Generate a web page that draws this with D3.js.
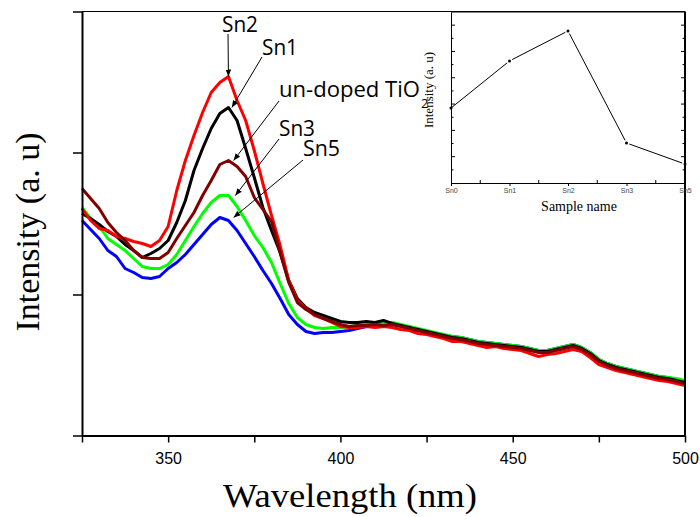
<!DOCTYPE html>
<html>
<head>
<meta charset="utf-8">
<script src="https://cdn.jsdelivr.net/npm/d3@7"></script>
<style>
  body { margin: 0; background: #fff; }
  .axis path, .axis line { stroke: #000; }
</style>
</head>
<body>
<div id="graphic"></div>
<script>
const width = 700;
const height = 517;

// wavelength grid (nm)
const wavelength = [325, 327.5, 330, 332.5, 335, 337.5, 340, 342.5, 345, 347.5,
  350, 352.5, 355, 357.5, 360, 362.5, 365, 367.5, 370, 372.5,
  375, 377.5, 380, 382.5, 385, 387.5, 390, 392.5, 395, 397.5,
  400, 402.5, 405, 407.5, 410, 412.5, 415, 417.5, 420, 422.5,
  425, 427.5, 430, 432.5, 435, 437.5, 440, 442.5, 445, 447.5,
  450, 452.5, 455, 457.5, 460, 462.5, 465, 467.5, 470, 472.5,
  475, 477.5, 480, 482.5, 485, 487.5, 490, 492.5, 495, 497.5, 500];

// PL intensity (a.u.)
const sn2 = [227, 215, 207, 205, 199, 197, 194, 192, 189, 195,
  209, 245, 275, 300, 323, 343, 353, 359, 335, 315,
  285, 252, 220, 190, 155, 135, 127, 120, 117, 113,
  109, 108, 108, 109, 108, 109, 108, 106, 105, 102,
  101, 99, 97, 94, 94, 92, 90, 88, 89, 87,
  86, 85, 82, 79, 81, 82, 84, 86, 84, 78,
  71, 68, 65, 63, 61, 59, 57, 55, 54, 52, 50];
const sn1 = [222, 217, 211, 204, 199, 191, 185, 178, 182, 187,
  195, 213, 235, 265, 287, 307, 322, 328, 315, 287,
  258, 228, 205, 183, 155, 137, 128, 123, 120, 117,
  114, 113, 113, 114, 113, 115, 112, 110, 108, 106,
  104, 102, 100, 98, 97, 95, 93, 92, 91, 90,
  89, 88, 86, 84, 84, 86, 88, 90, 87, 82,
  75, 71, 68, 66, 64, 62, 60, 58, 57, 55, 53];
const undoped = [247, 237, 227, 213, 203, 195, 185, 178, 177, 177,
  183, 197, 210, 223, 240, 255, 271, 275, 269, 259,
  238, 226, 214, 183, 153, 133, 126, 121, 117, 114,
  111, 109, 110, 110, 111, 110, 111, 109, 107, 105,
  103, 101, 99, 97, 96, 94, 92, 91, 90, 89,
  88, 87, 85, 83, 83, 85, 87, 89, 86, 81,
  74, 70, 67, 65, 63, 61, 59, 57, 56, 54, 52];
const sn3 = [228, 217, 209, 197, 191, 185, 177, 169, 167, 167,
  171, 181, 195, 209, 222, 233, 240, 240, 229, 215,
  200, 188, 173, 152, 132, 118, 111, 108, 107, 108,
  108, 109, 110, 111, 112, 112, 113, 111, 109, 107,
  105, 103, 101, 99, 98, 96, 94, 93, 92, 91,
  90, 89, 87, 85, 85, 87, 89, 91, 88, 83,
  76, 72, 69, 67, 65, 63, 61, 59, 58, 57, 55];
const sn5 = [215, 206, 197, 185, 179, 167, 163, 158, 157, 159,
  167, 173, 181, 191, 201, 211, 218, 215, 205, 192,
  179, 165, 152, 137, 121, 111, 104, 102, 103, 103,
  104, 105, 107, 109, 110, 111, 111, 110, 108, 106,
  104, 102, 100, 99, 98, 96, 94, 93, 92, 91,
  90, 89, 87, 85, 85, 87, 89, 91, 88, 83,
  76, 72, 69, 67, 65, 63, 61, 59, 58, 56, 54];

const xTicks = [325, 350, 375, 400, 425, 450, 475, 500];
const xTickLabels = [350, 400, 450, 500];
const yTicks = [0, 141, 283, 424];

// inset: peak intensity per sample
const samples = ['Sn0', 'Sn1', 'Sn2', 'Sn3', 'Sn5'];
const peakIntensity = [2.85, 4.64, 5.78, 1.52, 0.72];
const insetYTicks = [0.5, 1, 1.5, 2, 2.5, 3, 3.5, 4, 4.5, 5, 5.5, 6];

const svg = d3.select('#graphic')
  .append('svg')
  .attr('width', width)
  .attr('height', height);

const x = d3.scaleLinear().domain([325, 500]).range([82, 685]);
const y = d3.scaleLinear().domain([0, 424]).range([435.5, 11.5]);

// series, drawn in this order (last on top)
const series = [
  { name: 'Sn5', values: sn5, color: '#0000ff' },
  { name: 'Sn3', values: sn3, color: '#00ff00' },
  { name: 'Sn1', values: sn1, color: '#000000' },
  { name: 'Sn2', values: sn2, color: '#ff0000' },
  { name: 'undoped', values: undoped, color: '#800000' }
];

const line = d3.line()
  .x((d, i) => x(wavelength[i]))
  .y(d => y(d));

svg.selectAll('path.spec')
  .data(series)
  .enter()
  .append('path')
  .attr('class', 'spec')
  .attr('d', d => line(d.values))
  .attr('fill', 'none')
  .attr('stroke', d => d.color)
  .attr('stroke-width', 3)
  .attr('stroke-linejoin', 'round');

// axes
const axisX = d3.axisBottom(x)
  .tickValues(xTicks)
  .tickSize(7)
  .tickSizeOuter(0)
  .tickFormat(d => xTickLabels.includes(d) ? d : '');

const gx = svg.append('g')
  .attr('class', 'axis')
  .attr('transform', `translate(0, ${y(0)})`)
  .call(axisX);
gx.select('.domain').attr('stroke-width', 2);
gx.selectAll('line').attr('stroke-width', 1.5);
gx.selectAll('text')
  .attr('y', 28)
  .attr('dy', 0)
  .attr('fill', '#000')
  .style('font-family', '"Liberation Sans", Arial, sans-serif')
  .style('font-size', '16px');

const axisY = d3.axisLeft(y)
  .tickValues(yTicks)
  .tickSize(9)
  .tickSizeOuter(0)
  .tickFormat('');

const gy = svg.append('g')
  .attr('class', 'axis')
  .attr('transform', `translate(${x(325)}, 0)`)
  .call(axisY);
gy.select('.domain').attr('stroke-width', 2);
gy.selectAll('line').attr('stroke-width', 1.5);

// frame top and right
svg.append('line')
  .attr('x1', x(325)).attr('x2', x(500))
  .attr('y1', y(424)).attr('y2', y(424))
  .attr('stroke', '#000').attr('stroke-width', 1.2);
svg.append('line')
  .attr('x1', x(500)).attr('x2', x(500))
  .attr('y1', y(424)).attr('y2', y(0))
  .attr('stroke', '#000').attr('stroke-width', 2);

// axis titles
svg.append('text')
  .attr('x', 223)
  .attr('y', 507)
  .attr('textLength', 254)
  .attr('lengthAdjust', 'spacingAndGlyphs')
  .style('font-family', '"Liberation Serif", "Times New Roman", serif')
  .style('font-size', '33px')
  .text('Wavelength (nm)');

svg.append('text')
  .attr('transform', 'translate(39, 232) rotate(-90)')
  .attr('text-anchor', 'middle')
  .style('font-family', '"Liberation Serif", "Times New Roman", serif')
  .style('font-size', '34px')
  .text('Intensity (a. u)');

// annotations with arrows pointing at the peaks
svg.append('defs').append('marker')
  .attr('id', 'arrow')
  .attr('markerUnits', 'userSpaceOnUse')
  .attr('viewBox', '0 0 10 10')
  .attr('refX', 10)
  .attr('refY', 5)
  .attr('markerWidth', 7)
  .attr('markerHeight', 7)
  .attr('orient', 'auto')
  .append('path')
  .attr('d', 'M0,1 L10,5 L0,9 Z')
  .attr('fill', '#000');

const notes = [
  { text: 'Sn2', tx: 222, ty: 32, len: 36, ax: 228, ay: 34, w: 367.5, v: 359 },
  { text: 'Sn1', tx: 262, ty: 55, len: 36, ax: 262, ay: 57, w: 368.5, v: 328 },
  { text: 'un-doped TiO', tx: 279, ty: 97, len: 141, ax: 279, ay: 101, w: 369, v: 275 },
  { text: 'Sn3', tx: 279, ty: 136, len: 36, ax: 279, ay: 139, w: 369.5, v: 240 },
  { text: 'Sn5', tx: 303, ty: 156, len: 37, ax: 303, ay: 160, w: 369, v: 218 }
];

notes.forEach(n => {
  svg.append('line')
    .attr('x1', n.ax).attr('y1', n.ay)
    .attr('x2', x(n.w)).attr('y2', y(n.v))
    .attr('stroke', '#000')
    .attr('stroke-width', 1)
    .attr('marker-end', 'url(#arrow)');
});

svg.selectAll('text.note')
  .data(notes)
  .enter()
  .append('text')
  .attr('class', 'note')
  .attr('x', d => d.tx)
  .attr('y', d => d.ty)
  .attr('textLength', d => d.len)
  .attr('lengthAdjust', 'spacingAndGlyphs')
  .style('font-family', '"Open Sans", sans-serif')
  .style('font-size', '21px')
  .text(d => d.text);

// subscript of TiO2, partly hidden under the inset title
svg.append('text')
  .attr('x', 421)
  .attr('y', 108)
  .style('font-family', '"Open Sans", sans-serif')
  .style('font-size', '13px')
  .text('2');

// inset
const ix = d3.scalePoint().domain(samples).range([451, 685]);
const iy = d3.scaleLinear().domain([0, 6.5]).range([183, 12]);

const insetAxisX = d3.axisBottom(ix).tickSize(3).tickSizeOuter(0);
const gix = svg.append('g')
  .attr('class', 'axis')
  .attr('transform', `translate(0, ${iy(0)})`)
  .call(insetAxisX);
gix.selectAll('text')
  .attr('y', 10)
  .attr('dy', 0)
  .attr('fill', '#444')
  .style('font-family', '"Liberation Sans", Arial, sans-serif')
  .style('font-size', '7px');

// minor ticks between samples, pointing up
svg.selectAll('line.iminor')
  .data(samples.slice(1))
  .enter()
  .append('line')
  .attr('class', 'iminor')
  .attr('x1', (d, i) => (ix(samples[i]) + ix(d)) / 2)
  .attr('x2', (d, i) => (ix(samples[i]) + ix(d)) / 2)
  .attr('y1', iy(0)).attr('y2', iy(0) - 3)
  .attr('stroke', '#000');

const insetAxisL = d3.axisRight(iy)
  .tickValues(insetYTicks)
  .tickSize(0)
  .tickFormat('');
svg.append('g')
  .attr('class', 'axis')
  .attr('transform', `translate(${ix('Sn0')}, 0)`)
  .call(insetAxisL);

svg.selectAll('line.iyt')
  .data(insetYTicks)
  .enter()
  .append('line')
  .attr('class', 'iyt')
  .attr('x1', ix('Sn0'))
  .attr('x2', d => ix('Sn0') + (d % 1 === 0 ? 4 : 2.5))
  .attr('y1', d => iy(d)).attr('y2', d => iy(d))
  .attr('stroke', '#000');
svg.selectAll('line.iyr')
  .data(insetYTicks)
  .enter()
  .append('line')
  .attr('class', 'iyr')
  .attr('x1', ix('Sn5'))
  .attr('x2', d => ix('Sn5') - (d % 1 === 0 ? 4 : 2.5))
  .attr('y1', d => iy(d)).attr('y2', d => iy(d))
  .attr('stroke', '#000');

svg.append('line')
  .attr('x1', ix('Sn0')).attr('x2', ix('Sn5'))
  .attr('y1', iy(6.5)).attr('y2', iy(6.5))
  .attr('stroke', '#000').attr('stroke-width', 1.2);

// inset line, with small gaps at the markers
const pts = samples.map((s, i) => [ix(s), iy(peakIntensity[i])]);
const gap = 3;
svg.selectAll('line.iseg')
  .data(pts.slice(1))
  .enter()
  .append('line')
  .attr('class', 'iseg')
  .each(function (p, i) {
    const a = pts[i];
    const dx = p[0] - a[0], dy = p[1] - a[1];
    const len = Math.sqrt(dx * dx + dy * dy);
    d3.select(this)
      .attr('x1', a[0] + dx / len * (i === 0 ? 0 : gap))
      .attr('y1', a[1] + dy / len * (i === 0 ? 0 : gap))
      .attr('x2', p[0] - dx / len * gap)
      .attr('y2', p[1] - dy / len * gap);
  })
  .attr('stroke', '#000')
  .attr('stroke-width', 1);

svg.selectAll('circle.ipt')
  .data(pts)
  .enter()
  .append('circle')
  .attr('class', 'ipt')
  .attr('cx', d => d[0])
  .attr('cy', d => d[1])
  .attr('r', 1.5)
  .attr('fill', '#000');

svg.append('text')
  .attr('x', 579)
  .attr('y', 211)
  .attr('text-anchor', 'middle')
  .style('font-family', '"Liberation Serif", "Times New Roman", serif')
  .style('font-size', '14px')
  .text('Sample name');

svg.append('text')
  .attr('transform', 'translate(433, 90) rotate(-90)')
  .attr('text-anchor', 'middle')
  .style('font-family', '"Liberation Serif", "Times New Roman", serif')
  .style('font-size', '13px')
  .text('Intensity (a. u)');
</script>
</body>
</html>
